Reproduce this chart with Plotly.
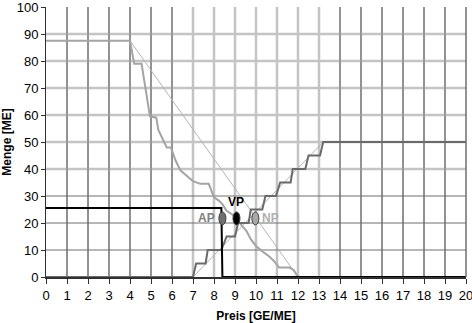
import plotly.graph_objects as go

# Nachfrage (Treppenkurve) und lineare Näherung
demand_x = [0, 4.0, 4.2, 4.55, 4.95, 5.25, 5.35, 5.6, 5.75, 5.95, 6.15, 6.4, 6.7, 7.0, 7.35,
            7.75, 8.0, 8.2, 8.4, 8.6, 8.9, 9.3, 9.55, 9.75, 10.0, 10.3, 10.65, 10.9, 11.1,
            11.6, 11.8, 12.0]
demand_y = [87.5, 87.5, 79, 79, 59.5, 59, 54.5, 50, 48, 48, 43.5, 39.5, 37.5, 35.5, 34.5,
            34.5, 29.5, 28.5, 27, 24.5, 23, 19.5, 17, 14, 11.5, 9.5, 7.5, 5.5, 3.5,
            3.5, 2.5, 0]
demand_lin_x = [4, 12]
demand_lin_y = [87.5, 0]

# Angebot (Treppenkurve) und lineare Näherung
supply_x = [0, 7.0, 7.15, 7.6, 7.7, 8.35, 8.6, 9.0, 9.15, 9.65, 9.75, 10.3, 10.45, 10.95,
            11.15, 11.65, 11.75, 12.35, 12.5, 13.05, 13.2, 20]
supply_y = [0, 0, 5, 5, 10, 10, 15, 15, 20, 20, 25, 25, 30, 30,
            35, 35, 40, 40, 45, 45, 50, 50]
supply_lin_x = [7, 13.2]
supply_lin_y = [0, 50]

# Realisierte Menge (schwarze Linie)
black_x = [0, 8.35, 8.4, 20]
black_y = [25.6, 25.6, 0, 0]

# Preispunkte
pt_names = ["AP", "VP", "NP"]
pt_x = [8.4, 9.07, 9.97]
pt_y = [21.7, 21.7, 21.7]
pt_fill = ["#707070", "#000000", "#a8a8a8"]
pt_text_color = ["#808080", "#000000", "#b0b0b0"]

x_ticks = list(range(0, 21))
y_ticks = list(range(0, 101, 10))

fig = go.Figure()

DARK = "#6e6e6e"
LIGHT = "#c4c4c4"

shapes = []
for v in x_ticks[1:-1]:
    light = 7 <= v <= 13
    shapes.append(dict(type="line", xref="x", yref="paper", x0=v, x1=v, y0=0, y1=1,
                       line=dict(color=LIGHT if light else DARK, width=2.5 if light else 1),
                       layer="below"))
for v in y_ticks[1:-1]:
    light = v >= 40
    shapes.append(dict(type="line", xref="paper", yref="y", x0=0, x1=1, y0=v, y1=v,
                       line=dict(color=LIGHT if light else DARK, width=2.5 if light else 1),
                       layer="below"))
# dunkle Senkrechten über die hellen Waagerechten legen
for v in x_ticks[1:-1]:
    if not (7 <= v <= 13):
        shapes.append(dict(type="line", xref="x", yref="paper", x0=v, x1=v, y0=0, y1=1,
                           line=dict(color=DARK, width=1), layer="below"))
# rechter Rand (x = 20)
shapes.append(dict(type="line", xref="paper", yref="paper", x0=1, x1=1, y0=0, y1=1,
                   line=dict(color=DARK, width=1.5), layer="above"))

fig.add_trace(go.Scatter(x=demand_lin_x, y=demand_lin_y, mode="lines",
                         line=dict(color="#b4b4b4", width=1), showlegend=False))
fig.add_trace(go.Scatter(x=supply_lin_x, y=supply_lin_y, mode="lines",
                         line=dict(color="#b4b4b4", width=1), showlegend=False))
fig.add_trace(go.Scatter(x=demand_x, y=demand_y, mode="lines",
                         line=dict(color="#a4a4a4", width=2), showlegend=False))
fig.add_trace(go.Scatter(x=supply_x, y=supply_y, mode="lines",
                         line=dict(color="#6a6a6a", width=2), showlegend=False))
fig.add_trace(go.Scatter(x=black_x, y=black_y, mode="lines",
                         line=dict(color="#000000", width=2), showlegend=False))

# Ellipsen-Marker an den Preispunkten
for name, x, y, fc in zip(pt_names, pt_x, pt_y, pt_fill):
    shapes.append(dict(type="circle", xref="x", yref="y", xsizemode="pixel", ysizemode="pixel",
                       xanchor=x, yanchor=y, x0=-3.5, x1=3.5, y0=-6.5, y1=6.5,
                       fillcolor=fc, line=dict(color="#404040", width=1), layer="above"))

annotations = []
offsets = {"AP": (-5, 0, "right", "middle"), "VP": (0, 7, "center", "bottom"),
           "NP": (5, 0, "left", "middle")}
for name, x, y, tc in zip(pt_names, pt_x, pt_y, pt_text_color):
    dx, dy, xa, ya = offsets[name]
    annotations.append(dict(x=x, y=y, xref="x", yref="y", text=f"<b>{name}</b>",
                            showarrow=False, xshift=dx, yshift=dy, xanchor=xa, yanchor=ya,
                            font=dict(color=tc, size=12, family="Liberation Sans, Arial")))

fig.update_layout(
    width=472, height=323,
    margin=dict(l=46, r=6, t=7, b=46),
    paper_bgcolor="white", plot_bgcolor="white",
    font=dict(family="Liberation Sans, Arial", size=13, color="#000000"),
    shapes=shapes, annotations=annotations,
    xaxis=dict(range=[0, 20], tickvals=x_ticks, ticktext=[str(v) for v in x_ticks],
               automargin=False, ticklabeloverflow="allow",
               showgrid=False, zeroline=False, showline=True, linecolor="#303030", linewidth=2,
               ticks="outside", ticklen=5, tickcolor="#303030", tickwidth=1,
               tickfont=dict(size=13),
               title=dict(text="<b>Preis [GE/ME]</b>", font=dict(size=12), standoff=11)),
    yaxis=dict(range=[0, 100], tickvals=y_ticks, ticktext=[str(v) for v in y_ticks],
               automargin=False, ticklabeloverflow="allow",
               showgrid=False, zeroline=False, showline=True, linecolor="#303030", linewidth=1,
               ticks="outside", ticklen=4, tickcolor="#303030",
               tickfont=dict(size=13),
               title=dict(text="<b>Menge [ME]</b>", font=dict(size=12), standoff=4)),
)

fig.write_html("out.html", config={"displayModeBar": False},
               post_script="document.body.style.margin='0px';document.body.style.padding='0px';")
